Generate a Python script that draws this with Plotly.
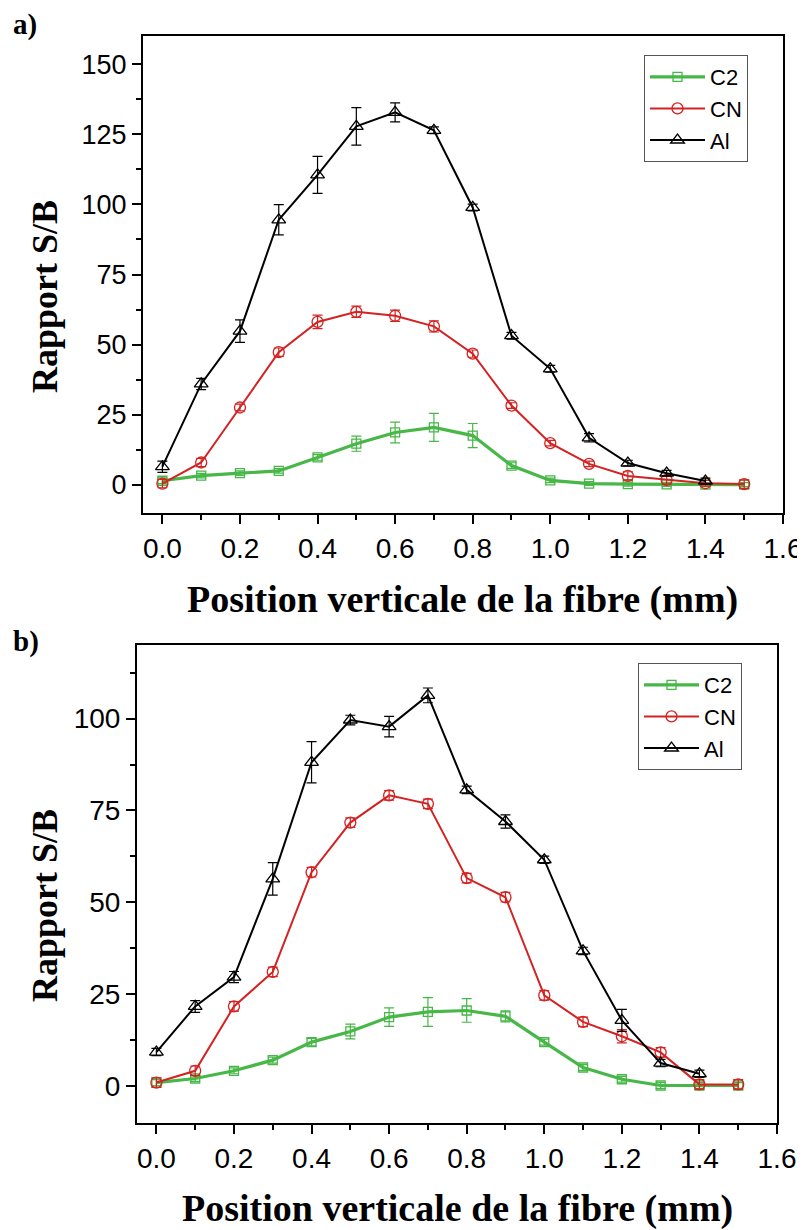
import plotly.graph_objects as go

# ---------------- data ----------------
positions = [0.0, 0.1, 0.2, 0.3, 0.4, 0.5, 0.6, 0.7, 0.8, 0.9, 1.0, 1.1, 1.2, 1.3, 1.4, 1.5]
positions_al = positions[:15]

# panel a
a_c2 = [1.5, 3.3, 4.2, 5.0, 9.8, 14.7, 18.7, 20.5, 17.6, 6.9, 1.6, 0.5, 0.3, 0.2, 0.1, 0.1]
a_c2_err = [1.0, 0.8, 0.8, 0.8, 1.0, 2.7, 3.7, 5.0, 4.3, 1.0, 0.8, 0.7, 0.7, 0.7, 0.7, 0.7]
a_cn = [0.5, 8.0, 27.6, 47.3, 58.1, 61.7, 60.3, 56.5, 46.8, 28.3, 14.9, 7.5, 3.2, 1.8, 0.6, 0.3]
a_cn_err = [1.5, 1.5, 1.2, 1.5, 2.4, 2.0, 2.0, 2.0, 1.3, 1.0, 1.0, 1.0, 1.5, 1.5, 1.0, 1.5]
a_al = [6.5, 36.0, 54.8, 94.5, 110.5, 127.8, 132.8, 126.4, 98.9, 53.2, 41.4, 16.8, 7.8, 4.2, 1.4]
a_al_err = [2.0, 2.0, 4.0, 5.4, 6.6, 6.7, 3.4, 1.2, 1.2, 1.2, 1.2, 1.5, 1.0, 1.0, 1.0]

# panel b
b_c2 = [1.0, 2.1, 4.2, 7.1, 12.0, 14.9, 18.8, 20.2, 20.6, 19.0, 12.0, 5.1, 1.9, 0.2, 0.2, 0.2]
b_c2_err = [0.8, 0.8, 0.8, 0.8, 1.0, 2.0, 2.5, 3.9, 3.2, 1.5, 0.8, 0.8, 0.8, 0.8, 0.8, 0.8]
b_cn = [1.0, 4.2, 21.7, 31.1, 58.2, 71.7, 79.1, 76.8, 56.6, 51.4, 24.7, 17.5, 13.6, 9.2, 0.5, 0.5]
b_cn_err = [1.3, 1.3, 1.3, 1.3, 1.3, 1.3, 1.3, 1.3, 1.3, 1.3, 1.3, 1.3, 1.8, 1.3, 1.3, 1.3]
b_al = [9.3, 21.7, 29.7, 56.4, 88.1, 99.6, 97.8, 106.3, 80.6, 72.0, 61.6, 36.8, 17.9, 6.3, 3.4]
b_al_err = [1.0, 1.6, 1.5, 4.4, 5.6, 1.3, 2.8, 2.0, 1.0, 1.8, 1.0, 1.0, 3.0, 1.0, 1.0]

series_names = ["C2", "CN", "Al"]
x_ticks = [0.0, 0.2, 0.4, 0.6, 0.8, 1.0, 1.2, 1.4, 1.6]
x_ticklabels = ["0.0", "0.2", "0.4", "0.6", "0.8", "1.0", "1.2", "1.4", "1.6"]
a_yticks = [0, 25, 50, 75, 100, 125, 150]
b_yticks = [0, 25, 50, 75, 100]

x_title = "Position verticale de la fibre (mm)"
y_title = "Rapport S/B"

# ---------------- styles ----------------
GREEN = "#47b747"
RED = "#d42222"
BLACK = "#000000"
styles = {
    "C2": dict(color=GREEN, width=3.2, symbol="square-open", size=9),
    "CN": dict(color=RED, width=2.0, symbol="circle-open", size=11),
    "Al": dict(color=BLACK, width=2.0, symbol="triangle-up-open", size=12),
}

fig = go.Figure()

panels = [
    ("x", "y", [(a_c2, a_c2_err, positions), (a_cn, a_cn_err, positions), (a_al, a_al_err, positions_al)], "legend"),
    ("x2", "y2", [(b_c2, b_c2_err, positions), (b_cn, b_cn_err, positions), (b_al, b_al_err, positions_al)], "legend2"),
]

for xa, ya, data, leg in panels:
    for name, (vals, errs, xs) in zip(series_names, data):
        st = styles[name]
        fig.add_trace(go.Scatter(
            x=xs, y=vals, name=name, mode="lines+markers",
            xaxis=xa, yaxis=ya, legend=leg,
            line=dict(color=st["color"], width=st["width"]),
            marker=dict(symbol=st["symbol"], size=st["size"], color=st["color"],
                        line=dict(color=st["color"], width=1.3)),
            error_y=dict(type="data", array=errs, visible=True, color=st["color"],
                         thickness=1.2, width=5),
        ))

W, H = 805, 1230
OFF = 8  # default page body margin


def px(sx):
    return (sx - OFF) / W


def py(sy):
    return 1 - (sy - OFF) / H


tickfont_x = dict(family="Liberation Sans, Arial", size=28, color="black")


def xaxis_cfg(domain, anchor):
    return dict(
        domain=domain, anchor=anchor, range=[-0.05, 1.6], automargin=False,
        tickmode="array", tickvals=x_ticks, ticktext=x_ticklabels,
        ticks="outside", ticklen=9, tickwidth=2, tickcolor="black",
        minor=dict(ticks="outside", ticklen=5, tickwidth=1.5, tickcolor="black",
                   tickmode="array", tickvals=[0.1, 0.3, 0.5, 0.7, 0.9, 1.1, 1.3, 1.5]),
        showline=True, linewidth=2, linecolor="black", mirror=True,
        showgrid=False, zeroline=False, tickfont=tickfont_x,
    )


def yaxis_cfg(domain, anchor, rng, ticks, size):
    return dict(
        domain=domain, anchor=anchor, range=rng, automargin=False,
        tickmode="array", tickvals=ticks, ticktext=[str(t) for t in ticks],
        ticks="outside", ticklen=9, tickwidth=2, tickcolor="black",
        minor=dict(ticks="outside", ticklen=5, tickwidth=1.5, tickcolor="black",
                   tickmode="array", tickvals=[t + 12.5 for t in ticks]),
        showline=True, linewidth=2, linecolor="black", mirror=True,
        showgrid=False, zeroline=False,
        tickfont=dict(family="Liberation Sans, Arial", size=size, color="black"),
    )


legend_font = dict(family="Liberation Sans, Arial", size=22, color="black")

fig.update_layout(
    width=W, height=H,
    margin=dict(l=0, r=0, t=0, b=0, autoexpand=False),
    paper_bgcolor="white", plot_bgcolor="white",
    xaxis=xaxis_cfg([px(143), px(783)], "y"),
    yaxis=yaxis_cfg([py(513), py(36)], "x", [-10, 160], a_yticks, 27),
    xaxis2=xaxis_cfg([px(137), px(777)], "y2"),
    yaxis2=yaxis_cfg([py(1123), py(645)], "x2", [-10, 120], b_yticks, 28),
    legend=dict(x=px(644), y=py(55), xanchor="left", yanchor="top",
                bgcolor="white", bordercolor="#555555", borderwidth=1,
                font=legend_font, itemwidth=55, tracegroupgap=0),
    legend2=dict(x=px(638), y=py(663), xanchor="left", yanchor="top",
                 bgcolor="white", bordercolor="#555555", borderwidth=1,
                 font=legend_font, itemwidth=55, tracegroupgap=0),
    showlegend=True,
)

serif = "Liberation Serif, Times New Roman"
annotations = [
    dict(text="<b>a)</b>", x=px(11), y=py(24), xanchor="left", yanchor="middle",
         font=dict(family=serif, size=29, color="black")),
    dict(text="<b>b)</b>", x=px(11), y=py(641), xanchor="left", yanchor="middle",
         font=dict(family=serif, size=29, color="black")),
    dict(text="<b>" + x_title + "</b>", x=px(462), y=py(599), xanchor="center", yanchor="middle",
         font=dict(family=serif, size=38, color="black")),
    dict(text="<b>" + x_title + "</b>", x=px(457), y=py(1208), xanchor="center", yanchor="middle",
         font=dict(family=serif, size=38, color="black")),
    dict(text="<b>" + y_title + "</b>", x=px(45), y=py(297), xanchor="center", yanchor="middle",
         textangle=-90, font=dict(family=serif, size=36, color="black")),
    dict(text="<b>" + y_title + "</b>", x=px(45), y=py(906), xanchor="center", yanchor="middle",
         textangle=-90, font=dict(family=serif, size=36, color="black")),
]
for a in annotations:
    a.update(xref="paper", yref="paper", showarrow=False)
fig.update_layout(annotations=annotations)

fig.write_html("out.html")
